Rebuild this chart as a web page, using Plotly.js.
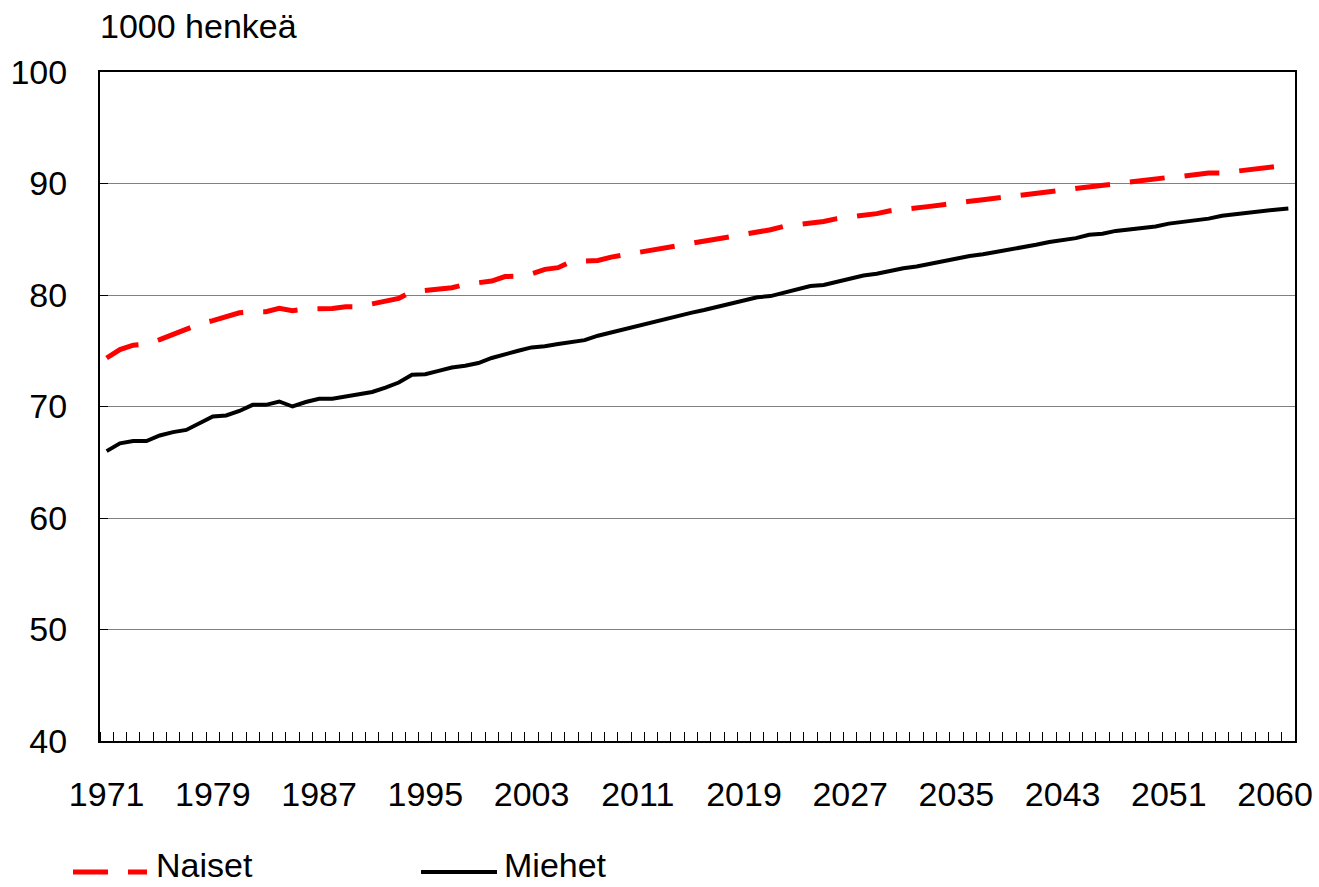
<!DOCTYPE html>
<html>
<head>
<meta charset="utf-8">
<script src="https://cdn.plot.ly/plotly-3.0.1.min.js"></script>
<style>html,body{margin:0;padding:0;background:#fff;}#chart{width:1319px;height:887px;}</style>
</head>
<body>
<div id="chart"></div>
<script>
const years = [];
for (let y = 1971; y <= 2060; y++) years.push(y);

const naiset = [74.35,75.1,75.5,75.6,76.0,76.5,77.0,77.4,77.7,78.0,
78.4,78.5,78.5,78.8,78.6,78.75,78.75,78.8,78.95,78.95,
79.2,79.5,79.7,80.3,80.4,80.6,80.65,80.95,81.1,81.25,
81.65,81.7,81.9,82.3,82.45,83.0,83.05,83.1,83.4,83.6,
83.8,84.0,84.3,84.5,84.7,84.9,85.1,85.25,85.45,85.65,
85.85,86.15,86.3,86.4,86.6,86.85,87.0,87.05,87.3,87.55,
87.65,87.8,87.95,88.1,88.2,88.4,88.55,88.7,88.85,88.95,
89.1,89.25,89.4,89.55,89.75,89.85,90.0,90.1,90.25,90.4,
90.55,90.65,90.8,90.95,90.95,91.1,91.15,91.3,91.45,91.65];

const miehet = [66.0,66.7,66.9,66.9,67.4,67.7,67.9,68.5,69.1,69.2,
69.6,70.15,70.15,70.45,70.0,70.4,70.7,70.7,70.9,71.05,
71.3,71.7,72.15,72.85,72.9,73.2,73.5,73.65,73.9,74.35,
74.7,75.0,75.3,75.4,75.6,75.8,75.95,76.35,76.65,76.95,
77.25,77.55,77.85,78.15,78.4,78.65,78.95,79.25,79.55,79.8,
79.9,80.2,80.5,80.8,80.9,81.2,81.5,81.75,81.9,82.15,
82.4,82.55,82.8,83.0,83.25,83.5,83.65,83.85,84.05,84.3,
84.5,84.75,84.9,85.1,85.4,85.5,85.75,85.9,86.0,86.15,
86.4,86.55,86.7,86.85,87.1,87.25,87.35,87.5,87.65,87.75];

const tickLabels = ["1971","1979","1987","1995","2003","2011","2019","2027","2035","2043","2051","2060"];
const tickPositions = tickLabels.map((t, k) => years[8 * k]);

const seriesNames = ["Naiset", "Miehet"];
const yTitle = "1000 henkeä";

const FONT = "Liberation Sans, Arial, sans-serif";
const FS = 34;

const traces = [
  {x: years, y: naiset, name: seriesNames[0], type: "scatter", mode: "lines",
   line: {color: "#ff0000", width: 5, dash: "35px,20px"}, showlegend: false},
  {x: years, y: miehet, name: seriesNames[1], type: "scatter", mode: "lines",
   line: {color: "#000000", width: 4}, showlegend: false}
];

// legend geometry (paper coords)
const PW = 1195, PH = 669;
const px = v => (v - 100) / PW;
const py = v => (741 - v) / PH;
const legY = py(872);

const layout = {
  width: 1319, height: 887,
  margin: {l: 100, r: 24, t: 72, b: 146, pad: 0},
  paper_bgcolor: "#fff", plot_bgcolor: "#fff",
  font: {family: FONT, size: FS, color: "#000"},
  xaxis: {
    type: "linear", range: [1970.5, 2060.5],
    tickmode: "array", tickvals: tickPositions, ticktext: tickLabels,
    ticks: "", showgrid: false, zeroline: false,
    showline: true, linecolor: "#000", linewidth: 2, mirror: true,
    ticklabelstandoff: 22,
    tickfont: {family: FONT, size: FS, color: "#000"},
    minor: {tickmode: "linear", tick0: 1970.5, dtick: 1, ticks: "inside", ticklen: 9, tickwidth: 1, tickcolor: "#000", showgrid: false}
  },
  yaxis: {
    range: [40, 100], tickmode: "linear", tick0: 40, dtick: 10,
    ticks: "inside", ticklen: 8, tickwidth: 1, tickcolor: "#000",
    showgrid: true, gridcolor: "#808080", gridwidth: 1, zeroline: false,
    showline: true, linecolor: "#000", linewidth: 2, mirror: true,
    ticklabelstandoff: 24,
    tickfont: {family: FONT, size: FS, color: "#000"}
  },
  annotations: [
    {text: yTitle, xref: "paper", yref: "paper", x: px(98), y: py(26), xanchor: "left", yanchor: "middle",
     showarrow: false, font: {family: FONT, size: FS, color: "#000"}},
    {text: seriesNames[0], xref: "paper", yref: "paper", x: px(154), y: py(886), xanchor: "left", yanchor: "bottom",
     showarrow: false, font: {family: FONT, size: FS, color: "#000"}},
    {text: seriesNames[1], xref: "paper", yref: "paper", x: px(502), y: py(886), xanchor: "left", yanchor: "bottom",
     showarrow: false, font: {family: FONT, size: FS, color: "#000"}}
  ],
  shapes: [
    {type: "line", xref: "paper", yref: "paper", x0: px(73), x1: px(147), y0: legY, y1: legY,
     line: {color: "#ff0000", width: 5, dash: "35px,20px"}},
    {type: "line", xref: "paper", yref: "paper", x0: px(421), x1: px(497), y0: legY, y1: legY,
     line: {color: "#000", width: 4}}
  ]
};

Plotly.newPlot("chart", traces, layout, {staticPlot: true, displayModeBar: false});
</script>
</body>
</html>
